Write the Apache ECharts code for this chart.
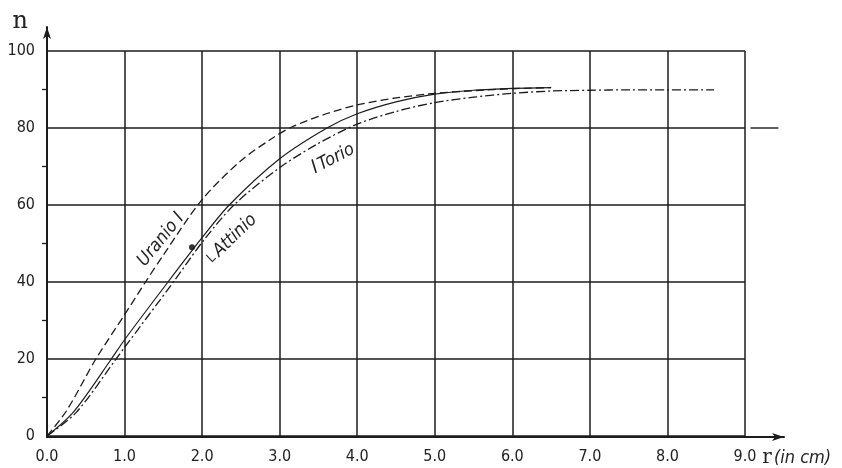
<!DOCTYPE html>
<html><head><meta charset="utf-8">
<script src="https://cdn.jsdelivr.net/npm/echarts@6/dist/echarts.min.js"></script>
<style>html,body{margin:0;padding:0;background:#fff}#c{width:842px;height:468px}</style>
</head><body><div id="c"></div>
<script>
// ---- data ----
const xTickLabels = ['0.0', '1.0', '2.0', '3.0', '4.0', '5.0', '6.0', '7.0', '8.0', '9.0'];
const yTickLabels = ['0', '20', '40', '60', '80', '100'];

const uranioX = [0, 0.25, 0.63, 1.0, 1.27, 1.5, 2.0, 2.5, 2.88, 3.15, 3.6, 4.0, 4.5, 5.0, 5.5, 6.0, 6.5];
const uranioN = [0, 6.5, 20, 31.5, 40, 47, 61.4, 71.5, 77, 80.2, 83.7, 86, 87.8, 89, 89.7, 90.2, 90.5];

const attinioX = [0, 0.34, 0.83, 1.0, 1.56, 2.0, 2.35, 3.0, 3.61, 4.0, 4.5, 5.0, 5.5, 6.0, 6.5];
const attinioN = [0, 6.2, 20, 25, 40, 51.5, 60, 72, 80, 83.7, 86.8, 88.8, 89.8, 90.3, 90.5];

const torioX = [0, 0.38, 0.89, 1.0, 1.63, 2.0, 2.41, 3.0, 3.5, 4.0, 4.5, 5.0, 5.5, 6.0, 6.5, 7.0, 7.5, 8.0, 8.6];
const torioN = [0, 6.2, 20, 23, 40, 50.3, 60, 69.7, 76, 81, 84.3, 86.6, 88, 89, 89.6, 89.8, 89.9, 89.9, 89.9];

const attinioDot = [1.87, 49];

// ---- chart ----
const FONT = '"Liberation Sans Narrow","DejaVu Sans Condensed","Liberation Sans",sans-serif';
const INK = '#1c1c1c';
const zip = (xs, ys) => xs.map((x, i) => [x, ys[i]]);

const chart = echarts.init(document.getElementById('c'), null, {renderer: 'canvas'});

const option = {
  animation: false,
  backgroundColor: '#ffffff',
  grid: [
    {left: 47, right: 97, top: 51, bottom: 31},
    {left: 47, right: 58, top: 27, bottom: 31}
  ],
  xAxis: [
    {
      type: 'value', gridIndex: 0, min: 0, max: 9, interval: 1,
      axisLine: {show: false}, axisTick: {show: false},
      splitLine: {show: true, lineStyle: {color: INK, width: 1.5}},
      axisLabel: {
        margin: 13, fontSize: 16, color: '#222', fontFamily: FONT,
        formatter: v => xTickLabels[Math.round(v)]
      },
      name: '{r|r}{u|(in cm)}', nameLocation: 'end', nameGap: 5,
      nameTextStyle: {
        padding: [44, 0, 0, 0],
        rich: {
          r: {fontSize: 20, fontFamily: 'DejaVu Serif, serif', color: '#222', padding: [0, 2, 0, 0]},
          u: {fontSize: 18, fontStyle: 'italic', fontFamily: FONT, color: '#222'}
        }
      }
    },
    {
      type: 'value', gridIndex: 1, min: 0, max: 9.5,
      axisLine: {show: true, symbol: ['none', 'arrow'], symbolSize: [6, 12],
        lineStyle: {color: INK, width: 2}},
      axisTick: {show: false}, axisLabel: {show: false}, splitLine: {show: false}
    }
  ],
  yAxis: [
    {
      type: 'value', gridIndex: 0, min: 0, max: 100, interval: 20,
      axisLine: {show: false}, axisTick: {show: false},
      minorTick: {show: true, splitNumber: 2, length: 5, lineStyle: {color: INK, width: 1.3}},
      splitLine: {show: true, lineStyle: {color: INK, width: 1.5}},
      axisLabel: {
        margin: 12, fontSize: 16, color: '#222', fontFamily: FONT,
        formatter: v => yTickLabels[Math.round(v / 20)]
      }
    },
    {
      type: 'value', gridIndex: 1, min: 0, max: 106.2,
      axisLine: {show: true, symbol: ['none', 'arrow'], symbolSize: [6, 12],
        lineStyle: {color: INK, width: 2}},
      axisTick: {show: false}, axisLabel: {show: false}, splitLine: {show: false},
      name: 'n', nameLocation: 'end', nameGap: -7,
      nameTextStyle: {align: 'right', padding: [0, 19, 0, 0], fontSize: 24,
        fontFamily: 'DejaVu Serif, serif', color: '#222'}
    }
  ],
  series: [
    {
      name: 'Uranio I', type: 'line', xAxisIndex: 0, yAxisIndex: 0,
      data: zip(uranioX, uranioN), showSymbol: false, smooth: 0.3,
      lineStyle: {color: INK, width: 1.3, type: [8, 4]}
    },
    {
      name: 'Attinio', type: 'line', xAxisIndex: 0, yAxisIndex: 0,
      data: zip(attinioX, attinioN), showSymbol: false, smooth: 0.3,
      lineStyle: {color: INK, width: 1.2, type: 'solid'}
    },
    {
      name: 'Torio', type: 'line', xAxisIndex: 0, yAxisIndex: 0,
      data: zip(torioX, torioN), showSymbol: false, smooth: 0.3,
      lineStyle: {color: INK, width: 1.3, type: [9, 3, 2, 3]}
    },
    {
      name: 'dot', type: 'scatter', xAxisIndex: 0, yAxisIndex: 0,
      data: [attinioDot], symbolSize: 6, itemStyle: {color: '#000'}
    }
  ]
};
chart.setOption(option);

// curve annotations placed in data space
const px = (x, y) => chart.convertToPixel({gridIndex: 0}, [x, y]);
const deg = d => d * Math.PI / 180;
const labelFont = 'italic 18px ' + FONT;
const pU = px(1.47, 51);
const pA = px(2.38, 51.2);
const pT = px(3.69, 72);
const s1 = px(9.07, 80), s2 = px(9.43, 80);
chart.setOption({
  graphic: [
    {type: 'text', x: pU[0], y: pU[1], rotation: deg(51),
      style: {text: 'Uranio I', font: labelFont, fill: '#222', align: 'center', verticalAlign: 'middle'}},
    {type: 'text', x: pA[0], y: pA[1], rotation: deg(44),
      style: {text: '{l|L}Attinio', font: labelFont, fill: '#222', align: 'center', verticalAlign: 'middle',
        rich: {l: {fontSize: 13, fontFamily: FONT, padding: [0, 3, 0, 0]}}}},
    {type: 'text', x: pT[0], y: pT[1], rotation: deg(27),
      style: {text: '{l|I}Torio', font: labelFont, fill: '#222', align: 'center', verticalAlign: 'middle',
        rich: {l: {fontSize: 19, fontStyle: 'italic', fontFamily: FONT, padding: [0, 2, 0, 0]}}}},
    {type: 'line', shape: {x1: s1[0], y1: s1[1], x2: s2[0], y2: s2[1]},
      style: {stroke: INK, lineWidth: 1.4}}
  ]
});
</script>
</body></html>
